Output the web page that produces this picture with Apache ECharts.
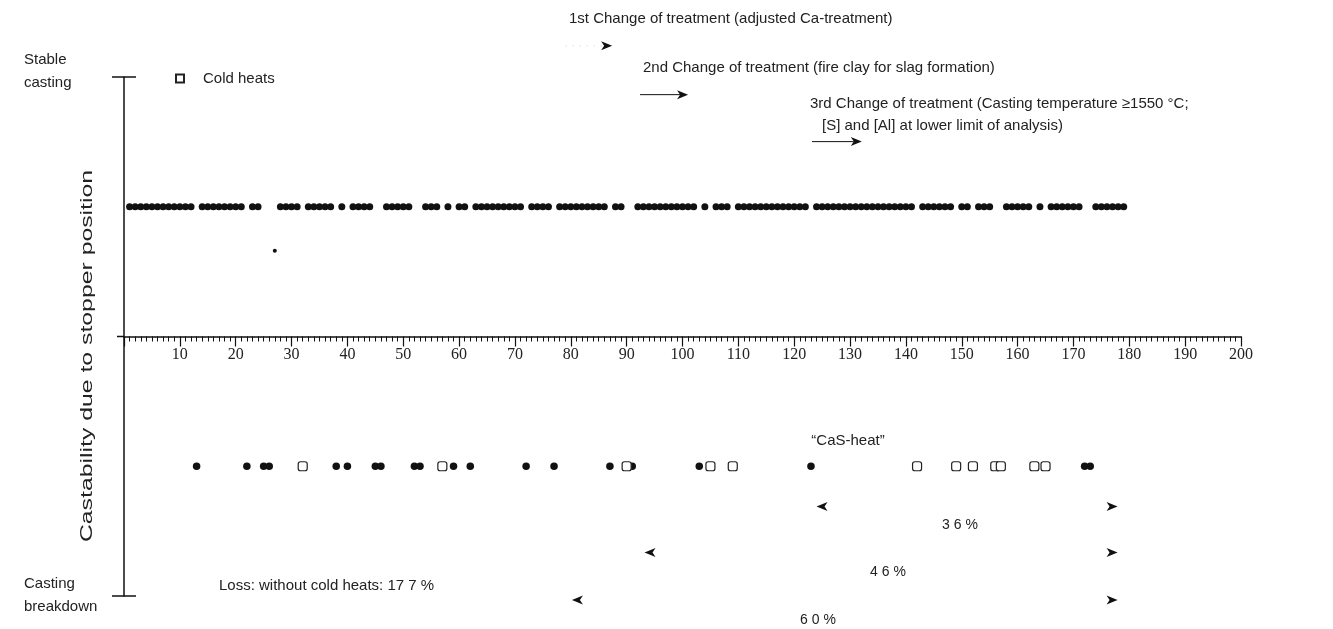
<!DOCTYPE html>
<html><head><meta charset="utf-8">
<script src="https://cdn.jsdelivr.net/npm/echarts@6/dist/echarts.min.js"></script>
<style>html,body{margin:0;padding:0;background:#fff}#c{width:1333px;height:629px}</style>
</head><body><div id="c"></div><script>
// ---- data ----
const xMin = 0, xMax = 200, xStep = 10;
const yMin = -100, yMax = 100;
const stableLevel = 50;      // "Stable casting" row
const failLevel = -50;       // breakdown row
const stableHeats = [1,2,3,4,5,6,7,8,9,10,11,12,14,15,16,17,18,19,20,21,23,24,28,29,30,31,33,34,35,36,37,39,41,42,43,44,47,48,49,50,51,54,55,56,58,60,61,63,64,65,66,67,68,69,70,71,73,74,75,76,78,79,80,81,82,83,84,85,86,88,89,92,93,94,95,96,97,98,99,100,101,102,104,106,107,108,110,111,112,113,114,115,116,117,118,119,120,121,122,124,125,126,127,128,129,130,131,132,133,134,135,136,137,138,139,140,141,143,144,145,146,147,148,150,151,153,154,155,158,159,160,161,162,164,166,167,168,169,170,171,174,175,176,177,178,179];
const failedHeats = [13,22,25,26,38,40,45,46,52,53,59,62,72,77,87,91,103,123,172,173];
const coldHeats = [32,57,90,105,109,142,149,152,156,157,163,165];
const partialHeats = [27];
const partialLevel = [33];
// treatment change arrows: [xFrom, xTo, y]
const changeArrows = [[79.1, 87.4, 112.0], [92.4, 101.0, 93.2], [123.2, 132.1, 75.1]];
// loss period markers: [xStart, xEnd, y]
const lossPeriods = [[124.0, 177.9, -65.5], [93.2, 177.9, -83.2], [80.2, 177.9, -101.5]];

(function () {
const W = 1333, H = 629;
const gridTop = 77, gridBottom = 33;
const zeroOffset = -(H - gridTop - gridBottom) / 2;
const chart = echarts.init(document.getElementById('c'));
const SANS = 'Liberation Sans, Arial, sans-serif';
const ink = '#111';
chart.setOption({
  animation: false,
  backgroundColor: '#fff',
  grid: {left: 124, right: 92, top: gridTop, bottom: gridBottom, containLabel: false},
  legend: {
    left: 170, top: 66, itemWidth: 8, itemHeight: 8, icon: 'rect',
    data: ['Cold heats'],
    textStyle: {fontFamily: SANS, fontSize: 15, color: '#222', padding: [0,0,0,14]}
  },
  xAxis: {
    type: 'value', min: xMin, max: xMax, interval: xStep, position: 'bottom', offset: zeroOffset,
    axisLine: {onZero: false, lineStyle: {color: ink, width: 1.5}},
    axisTick: {show: true, length: 10, lineStyle: {color: ink, width: 1.2}},
    minorTick: {show: true, splitNumber: 10, length: 5, lineStyle: {color: ink, width: 1}},
    axisLabel: {margin: 10, fontFamily: 'Liberation Serif, Times New Roman, serif', fontSize: 16, color: '#222',
      formatter: v => v === 0 ? '' : String(v)},
    splitLine: {show: false}, minorSplitLine: {show: false}
  },
  yAxis: {
    type: 'value', min: yMin, max: yMax,
    axisLine: {show: true, onZero: false, lineStyle: {color: ink, width: 1.5}},
    axisTick: {show: false}, axisLabel: {show: false}, splitLine: {show: false}
  },
  series: [
    {name: 'Stable heats', type: 'scatter', symbol: 'circle', symbolSize: 7,
     itemStyle: {color: ink, opacity: 1}, data: stableHeats.map(h => [h, stableLevel])},
    {name: 'Failed heats', type: 'scatter', symbol: 'circle', symbolSize: 7.5,
     itemStyle: {color: ink, opacity: 1}, data: failedHeats.map(h => [h, failLevel])},
    {name: 'Partial', type: 'scatter', symbol: 'circle', symbolSize: 4,
     itemStyle: {color: ink, opacity: 1}, data: partialHeats.map((h, i) => [h, partialLevel[i]])},
    {name: 'Cold heats', type: 'scatter', symbol: 'roundRect', symbolSize: 9,
     itemStyle: {color: '#fff', borderColor: '#222', borderWidth: 1.2, opacity: 1}, data: coldHeats.map(h => [h, failLevel])}
  ]
});

function px(x, y) { return chart.convertToPixel({gridIndex: 0}, [x, y]); }
function headRight(t) { const x = t[0], y = t[1]; return [[x, y], [x - 11, y - 4.5], [x - 8, y], [x - 11, y + 4.5]]; }
function headLeft(t) { const x = t[0], y = t[1]; return [[x, y], [x + 11, y - 4.5], [x + 8, y], [x + 11, y + 4.5]]; }
const g = [];
const pTop = px(0, yMax), pBot = px(0, yMin), pZero = px(0, 0);
g.push({type: 'line', shape: {x1: pTop[0] - 12, y1: pTop[1], x2: pTop[0] + 12, y2: pTop[1]}, style: {stroke: ink, lineWidth: 1.5}});
g.push({type: 'line', shape: {x1: pBot[0] - 12, y1: pBot[1], x2: pBot[0] + 12, y2: pBot[1]}, style: {stroke: ink, lineWidth: 1.5}});
g.push({type: 'line', shape: {x1: pZero[0] - 7, y1: pZero[1], x2: pZero[0], y2: pZero[1]}, style: {stroke: ink, lineWidth: 1.5}});
changeArrows.forEach((a, i) => {
  const p1 = px(a[0], a[2]), p2 = px(a[1], a[2]);
  g.push({type: 'line', shape: {x1: p1[0], y1: p1[1], x2: p2[0] - 8, y2: p2[1]},
    style: i === 0 ? {stroke: '#ccc', lineWidth: 1, lineDash: [1, 6]} : {stroke: ink, lineWidth: 1}});
  g.push({type: 'polygon', shape: {points: headRight(p2)}, style: {fill: ink}});
});
lossPeriods.forEach(a => {
  g.push({type: 'polygon', shape: {points: headLeft(px(a[0], a[2]))}, style: {fill: ink}});
  g.push({type: 'polygon', shape: {points: headRight(px(a[1], a[2]))}, style: {fill: ink}});
});
function txt(t, x, y, align, size, extra) {
  return Object.assign({type: 'text', x: x, y: y, style: {text: t, fill: '#222', font: (size || 15) + 'px ' + SANS,
    textAlign: align || 'left', textVerticalAlign: 'middle'}}, extra || {});
}
g.push(txt('1st Change of treatment (adjusted Ca-treatment)', 569, 19));
g.push(txt('2nd Change of treatment (fire clay for slag formation)', 643, 68));
g.push(txt('3rd Change of treatment (Casting temperature \u22651550 \u00b0C;', 810, 104));
g.push(txt('[S] and [Al] at lower limit of analysis)', 822, 126));
g.push(txt('Stable', 24, 60));
g.push(txt('casting', 24, 83));
g.push(txt('Casting', 24, 584));
g.push(txt('breakdown', 24, 607));
g.push(txt('Loss: without cold heats: 17 7 %', 219, 586));
g.push(txt('\u201cCaS-heat\u201d', 848, 441, 'center'));
g.push(txt('3 6 %', 960, 525, 'center', 14));
g.push(txt('4 6 %', 888, 572, 'center', 14));
g.push(txt('6 0 %', 818, 620, 'center', 14));
g.push(txt('Castability due to stopper position', 88, 356, 'center', 16, {rotation: Math.PI / 2, scaleX: 1.55}));
chart.setOption({graphic: g});
})();
</script></body></html>
